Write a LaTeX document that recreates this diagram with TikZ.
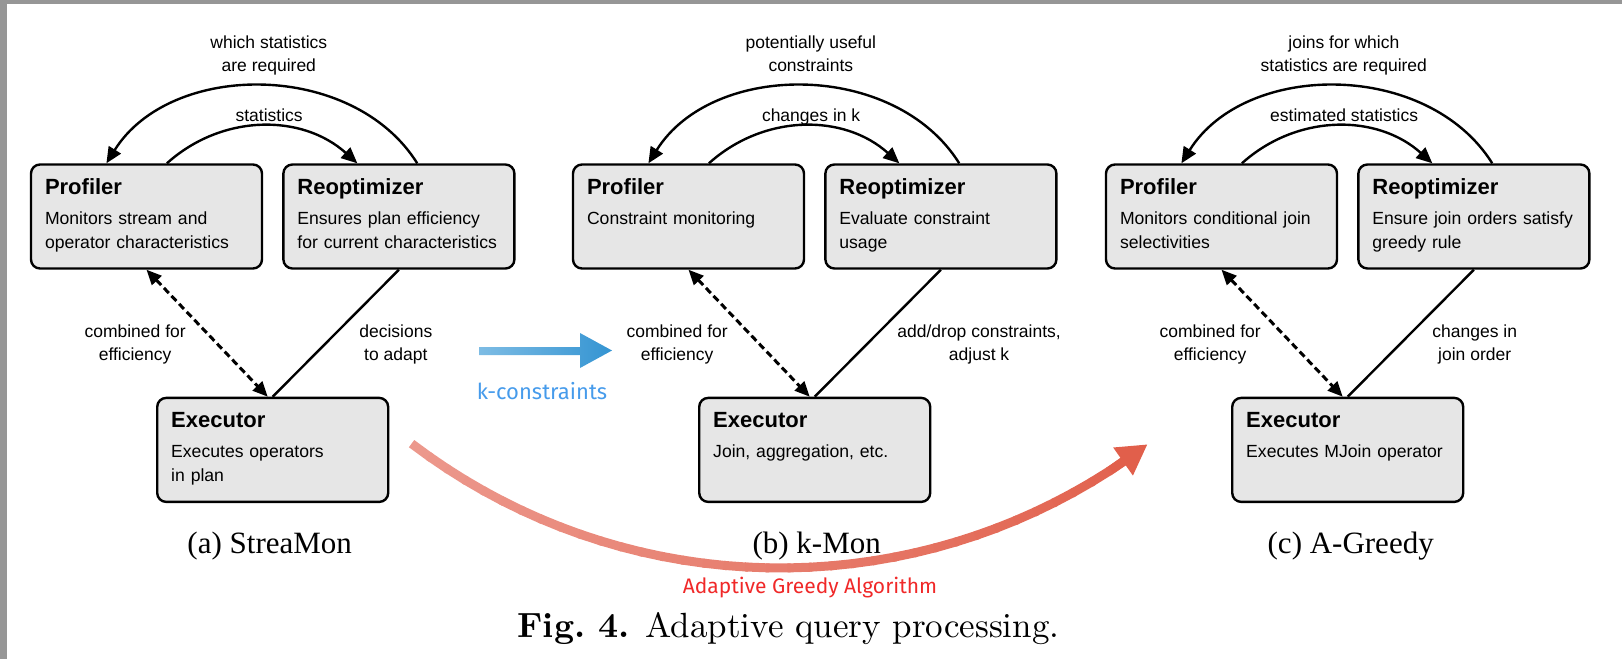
\documentclass[tikz,border=0pt]{standalone}
\usepackage{fontspec}
\usepackage{xcolor}
\usepackage{tikz}
\usetikzlibrary{arrows.meta,positioning,calc}

\newfontfamily\boxfont{Liberation Sans}
\newfontfamily\capfont{Liberation Serif}
\newfontfamily\notefont{Fira Sans}
\newfontfamily\figfont{lmroman10-regular}[Extension=.otf, BoldFont=lmroman10-bold]

\definecolor{boxgray}{RGB}{230,230,230}
\definecolor{framegray}{RGB}{150,150,150}
\definecolor{kblue}{RGB}{70,155,235}
\definecolor{kblueA}{RGB}{125,188,228}
\definecolor{kblueB}{RGB}{52,148,210}
\definecolor{gred}{RGB}{240,40,40}
\definecolor{gredA}{RGB}{236,152,140}
\definecolor{gredB}{RGB}{225,95,75}

\tikzset{
  box/.style={draw, line width=2.4pt, rounded corners=9pt, fill=boxgray,
    minimum height=104pt, text width=203pt, inner xsep=14pt, align=left,
    font=\boxfont\fontsize{17.6}{24}\selectfont},
  lbl/.style={font=\boxfont\fontsize{17.5}{23}\selectfont, align=center, inner sep=0pt,
    execute at end node=\strut},
  flow/.style={line width=2.4pt, -{Triangle[length=16pt,width=14pt]}},
  both/.style={line width=3pt, dash pattern=on 7pt off 4pt,
    {Triangle[length=15pt,width=13pt]}-{Triangle[length=15pt,width=13pt]}},
  link/.style={line width=2.4pt},
  subcap/.style={font=\capfont\fontsize{31}{36}\selectfont, inner sep=0pt},
  colnote/.style={font=\notefont\fontsize{21}{25}\selectfont, anchor=base},
}
\newcommand{\boxtext}[3]{{\fontsize{22}{24}\selectfont\bfseries #1\strut}\\[6pt]#2\strut\\#3\strut}

\begin{document}
\begin{tikzpicture}[x=1pt, y=-1pt]
        \useasboundingbox (0,0) rectangle (1622,659);
        % Frame
        \fill[framegray] (0,0) rectangle (7,659);
        \fill[framegray] (0,0) rectangle (1622,4);

        % (a) StreaMon
        \begin{scope}[xshift=31pt]
            \node[box] (pa) at (115.5,216.5) {\boxtext{Profiler}{Monitors stream and}{operator characteristics}};
            \node[box, right=19pt of pa] (ra) {\boxtext{Reoptimizer}{Ensures plan efficiency}{for current characteristics}};
            \coordinate (ma) at ($(pa.south)!.5!(ra.south)$);
            \node[box, below=127pt of ma] (ea) {\boxtext{Executor}{Executes operators}{in plan}};
            \draw[flow] (ra.71) to[out=122,in=58] node[lbl, above=7pt, xshift=7pt] {which statistics\\are required} (pa.127);
            \draw[flow] (pa.69) to[out=42,in=138] node[lbl, above=-4pt, xshift=7pt] {statistics} (ra.128);
            \draw[both] (pa.south) -- node[lbl, pos=.6, left=32pt] {combined for\\efficiency} ([xshift=-5pt]ea.north);
            \draw[link] (ra.south) -- node[lbl, pos=.6, right=35pt] {decisions\\to adapt} (ea.north);
            \node[subcap, below=29pt of ea, xshift=-3pt] (capa) {(a) StreaMon};
        \end{scope}

        % (b) k-Mon
        \begin{scope}[xshift=573pt]
            \node[box] (pb) at (115.5,216.5) {\boxtext{Profiler}{Constraint monitoring}{}};
            \node[box, right=19pt of pb] (rb) {\boxtext{Reoptimizer}{Evaluate constraint}{usage}};
            \coordinate (mb) at ($(pb.south)!.5!(rb.south)$);
            \node[box, below=127pt of mb] (eb) {\boxtext{Executor}{Join, aggregation, etc.}{}};
            \draw[flow] (rb.71) to[out=122,in=58] node[lbl, above=7pt, xshift=7pt] {potentially useful\\constraints} (pb.127);
            \draw[flow] (pb.69) to[out=42,in=138] node[lbl, above=-4pt, xshift=7pt] {changes in k} (rb.128);
            \draw[both] (pb.south) -- node[lbl, pos=.6, left=32pt] {combined for\\efficiency} ([xshift=-5pt]eb.north);
            \draw[link] (rb.south) -- node[lbl, pos=.6, right=31pt] {add/drop constraints,\\adjust k} (eb.north);
            \node[subcap, below=29pt of eb, xshift=2pt] (capb) {(b) k-Mon};
        \end{scope}

        % (c) A-Greedy
        \begin{scope}[xshift=1106pt]
            \node[box] (pc) at (115.5,216.5) {\boxtext{Profiler}{Monitors conditional join}{selectivities}};
            \node[box, right=19pt of pc] (rc) {\boxtext{Reoptimizer}{Ensure join orders satisfy}{greedy rule}};
            \coordinate (mc) at ($(pc.south)!.5!(rc.south)$);
            \node[box, below=127pt of mc] (ec) {\boxtext{Executor}{Executes MJoin operator}{}};
            \draw[flow] (rc.71) to[out=122,in=58] node[lbl, above=7pt, xshift=7pt] {joins for which\\statistics are required} (pc.127);
            \draw[flow] (pc.69) to[out=42,in=138] node[lbl, above=-4pt, xshift=7pt] {estimated statistics} (rc.128);
            \draw[both] (pc.south) -- node[lbl, pos=.6, left=32pt] {combined for\\efficiency} ([xshift=-5pt]ec.north);
            \draw[link] (rc.south) -- node[lbl, pos=.6, right=33pt] {changes in\\join order} (ec.north);
            \node[subcap, below=29pt of ec, xshift=3pt] (capc) {(c) A-Greedy};
        \end{scope}

        % k-constraints
        \shade[left color=kblueA, right color=kblueB] (479,347) -- (580,347) -- (580,333) -- (612,350.5)
            -- (580,368) -- (580,355) -- (479,355) -- cycle;
        \node[colnote, text=kblue, font=\notefont\fontsize{22}{26}\selectfont] (knote) at (542,399) {k-constraints};

        % Adaptive Greedy
        \foreach \a in {127.3,125.3,...,57.3} {
            \pgfmathsetmacro\p{(127.3-\a)/0.745}
            \draw[line width=9pt, color={gredB!\p!gredA}] ({780+608*cos(\a)},{-40+608*sin(\a)}) -- ({780+608*cos(\a-2.3)},{-40+608*sin(\a-2.3)});
        }
        \draw[line width=9pt, gredB, -{Triangle[length=30pt,width=32pt]}] ({780+608*cos(57)},{-40+608*sin(57)}) -- ({780+608*cos(52.8)},{-40+608*sin(52.8)});
        \node[colnote, text=gred] (agnote) at (810,593) {Adaptive Greedy Algorithm};

        \node[anchor=base, font=\figfont\fontsize{35}{40}\selectfont] (fig) at (788.5,637) {\textbf{Fig.\ 4.} Adaptive query processing.};
    \end{tikzpicture}
\end{document}
